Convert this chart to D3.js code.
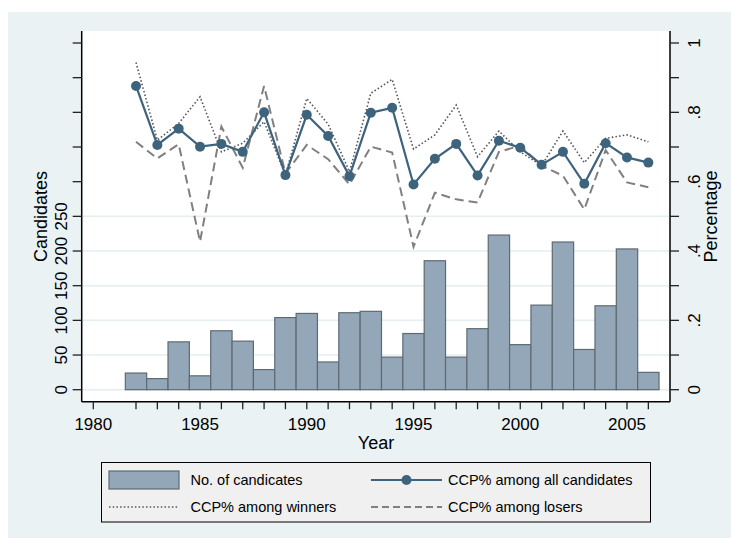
<!DOCTYPE html>
<html>
<head>
<meta charset="utf-8">
<script src="https://cdn.jsdelivr.net/npm/d3@7"></script>
<style>
  html, body { margin: 0; padding: 0; background: #ffffff; }
  svg { display: block; font-family: "Liberation Sans", Arial, sans-serif; }
</style>
</head>
<body>
<svg id="chart" width="731" height="538"></svg>
<script>
// Election years
const years = [1982, 1983, 1984, 1985, 1986, 1987, 1988, 1989, 1990, 1991, 1992, 1993, 1994,
               1995, 1996, 1997, 1998, 1999, 2000, 2001, 2002, 2003, 2004, 2005, 2006];
// Number of candidates per year (bars, left axis)
const candidates = [24, 16, 69, 20, 85, 70, 29, 104, 110, 40, 111, 113, 47,
                    81, 186, 47, 88, 223, 65, 122, 213, 58, 121, 203, 25];
// CCP share among all candidates (right axis)
const ccpAll = [0.876, 0.706, 0.753, 0.701, 0.709, 0.686, 0.800, 0.619, 0.793, 0.732, 0.616, 0.799, 0.813,
                0.592, 0.666, 0.709, 0.618, 0.718, 0.698, 0.649, 0.686, 0.594, 0.711, 0.670, 0.655];
// CCP share among winners
const ccpWinners = [0.944, 0.720, 0.768, 0.845, 0.686, 0.711, 0.773, 0.619, 0.840, 0.766, 0.629, 0.855, 0.895,
                    0.694, 0.735, 0.821, 0.672, 0.746, 0.686, 0.646, 0.746, 0.655, 0.725, 0.735, 0.715];
// CCP share among losers
const ccpLosers = [0.715, 0.667, 0.708, 0.427, 0.759, 0.640, 0.876, 0.624, 0.706, 0.665, 0.592, 0.701, 0.684,
                   0.412, 0.568, 0.549, 0.540, 0.686, 0.704, 0.646, 0.617, 0.520, 0.691, 0.598, 0.584];

// Axis ticks
const xLabelTicks = [1980, 1985, 1990, 1995, 2000, 2005];
const xMinorTicks = years;
const leftLabelTicks = [0, 50, 100, 150, 200, 250];
const leftAllTicks = [0, 50, 100, 150, 200, 250, 300, 350, 400, 450, 500];
const rightLabelTicks = [0, 0.2, 0.4, 0.6, 0.8, 1];
const rightAllTicks = [0, 0.1, 0.2, 0.3, 0.4, 0.5, 0.6, 0.7, 0.8, 0.9, 1];
const rightTickText = ["0", ".2", ".4", ".6", ".8", "1"];

const legendItems = ["No. of candicates", "CCP% among all candidates", "CCP% among winners", "CCP% among losers"];

const svg = d3.select("#chart");

const plotL = 81.7, plotR = 670, plotT = 31, plotB = 401.7;

const x = d3.scaleLinear().domain([1980, 2005]).range([93.3, 627]);
const yL = d3.scaleLinear().domain([0, 500]).range([389.7, 43]);
const yR = d3.scaleLinear().domain([0, 1]).range([389.7, 43]);

const lineColor = "#3E647D";
const barFill = "#93A7B9";
const barStroke = "#5E6A73";

// Outer background and plot region
svg.append("rect").attr("x", 8).attr("y", 12).attr("width", 723).attr("height", 526).attr("fill", "#EAF2F3");
svg.append("rect").attr("x", plotL).attr("y", plotT).attr("width", plotR - plotL).attr("height", plotB - plotT).attr("fill", "#ffffff");

// Gridlines at labelled left ticks
svg.append("g").selectAll("line").data(leftLabelTicks).join("line")
  .attr("x1", plotL).attr("x2", plotR)
  .attr("y1", d => yL(d)).attr("y2", d => yL(d))
  .attr("stroke", "#E4EEF1").attr("stroke-width", 1.5);

// Bars
svg.append("g").selectAll("rect").data(years).join("rect")
  .attr("x", (d) => x(d - 0.5))
  .attr("width", (d) => x(d + 0.5) - x(d - 0.5))
  .attr("y", (d, i) => yL(candidates[i]))
  .attr("height", (d, i) => yL(0) - yL(candidates[i]))
  .attr("fill", barFill).attr("stroke", barStroke).attr("stroke-width", 1.2);

// Lines
const mkLine = (vals) => d3.line().x((d, i) => x(years[i])).y(d => yR(d))(vals);

svg.append("path").attr("d", mkLine(ccpLosers)).attr("fill", "none")
  .attr("stroke", "#808080").attr("stroke-width", 2).attr("stroke-dasharray", "9,5");
svg.append("path").attr("d", mkLine(ccpWinners)).attr("fill", "none")
  .attr("stroke", "#555555").attr("stroke-width", 1.6).attr("stroke-dasharray", "1.5,2.2");
svg.append("path").attr("d", mkLine(ccpAll)).attr("fill", "none")
  .attr("stroke", lineColor).attr("stroke-width", 2.2);
svg.append("g").selectAll("circle").data(ccpAll).join("circle")
  .attr("cx", (d, i) => x(years[i])).attr("cy", d => yR(d)).attr("r", 5)
  .attr("fill", lineColor);

// Axis lines
const axisG = svg.append("g").attr("stroke", "#000").attr("stroke-width", 1.5);
axisG.append("line").attr("x1", plotL).attr("x2", plotL).attr("y1", plotT).attr("y2", plotB);
axisG.append("line").attr("x1", plotR).attr("x2", plotR).attr("y1", plotT).attr("y2", plotB);
axisG.append("line").attr("x1", plotL).attr("x2", plotR).attr("y1", plotB).attr("y2", plotB);

// Left ticks
svg.append("g").selectAll("line").data(leftAllTicks).join("line")
  .attr("x1", plotL - 9).attr("x2", plotL).attr("y1", d => yL(d)).attr("y2", d => yL(d))
  .attr("stroke", "#222").attr("stroke-width", 1.3);
svg.append("g").selectAll("text").data(leftLabelTicks).join("text")
  .attr("transform", d => `translate(67,${yL(d)}) rotate(-90)`)
  .attr("text-anchor", "middle").attr("font-size", 17).attr("fill", "#000")
  .text(d => d);

// Right ticks
svg.append("g").selectAll("line").data(rightAllTicks).join("line")
  .attr("x1", plotR).attr("x2", plotR + 9).attr("y1", d => yR(d)).attr("y2", d => yR(d))
  .attr("stroke", "#222").attr("stroke-width", 1.3);
svg.append("g").selectAll("text").data(rightLabelTicks).join("text")
  .attr("transform", d => `translate(700,${yR(d)}) rotate(-90)`)
  .attr("text-anchor", "middle").attr("font-size", 17).attr("fill", "#000")
  .text((d, i) => rightTickText[i]);

// X ticks
svg.append("g").selectAll("line").data(Array.from(new Set(xLabelTicks.concat(xMinorTicks)))).join("line")
  .attr("x1", d => x(d)).attr("x2", d => x(d)).attr("y1", plotB).attr("y2", plotB + 7.5)
  .attr("stroke", "#222").attr("stroke-width", 1.3);
svg.append("g").selectAll("text").data(xLabelTicks).join("text")
  .attr("x", d => x(d)).attr("y", 429.5)
  .attr("text-anchor", "middle").attr("font-size", 17).attr("fill", "#000")
  .text(d => d);

// Axis titles
svg.append("text").attr("x", 376).attr("y", 448.5).attr("text-anchor", "middle")
  .attr("font-size", 18).text("Year");
svg.append("text").attr("transform", "translate(46.5,216.5) rotate(-90)").attr("text-anchor", "middle")
  .attr("font-size", 18).text("Candidates");
svg.append("text").attr("transform", "translate(716.5,216.5) rotate(-90)").attr("text-anchor", "middle")
  .attr("font-size", 18).text("Percentage");

// Legend
const lg = svg.append("g");
lg.append("rect").attr("x", 101.5).attr("y", 462.5).attr("width", 549).attr("height", 59.5)
  .attr("fill", "#F0F0F0").attr("stroke", "#000").attr("stroke-width", 1);
const col1 = 109, col2 = 371, row1 = 480, row2 = 507;
lg.append("rect").attr("x", col1).attr("y", row1 - 9).attr("width", 70).attr("height", 18)
  .attr("fill", barFill).attr("stroke", barStroke).attr("stroke-width", 1.2);
lg.append("line").attr("x1", col2).attr("x2", col2 + 71).attr("y1", row1).attr("y2", row1)
  .attr("stroke", lineColor).attr("stroke-width", 2);
lg.append("circle").attr("cx", col2 + 35.5).attr("cy", row1).attr("r", 5).attr("fill", lineColor);
lg.append("line").attr("x1", col1).attr("x2", col1 + 70).attr("y1", row2).attr("y2", row2)
  .attr("stroke", "#555555").attr("stroke-width", 1.4).attr("stroke-dasharray", "1.5,2.2");
lg.append("line").attr("x1", col2).attr("x2", col2 + 71).attr("y1", row2).attr("y2", row2)
  .attr("stroke", "#808080").attr("stroke-width", 2).attr("stroke-dasharray", "7,4");
const legendPos = [[190.5, row1], [448, row1], [190.5, row2], [448, row2]];
lg.selectAll("text.leg").data(legendItems).join("text").attr("class", "leg")
  .attr("x", (d, i) => legendPos[i][0]).attr("y", (d, i) => legendPos[i][1] + 5)
  .attr("font-size", 14.5).attr("fill", "#000")
  .text(d => d);
</script>
</body>
</html>
